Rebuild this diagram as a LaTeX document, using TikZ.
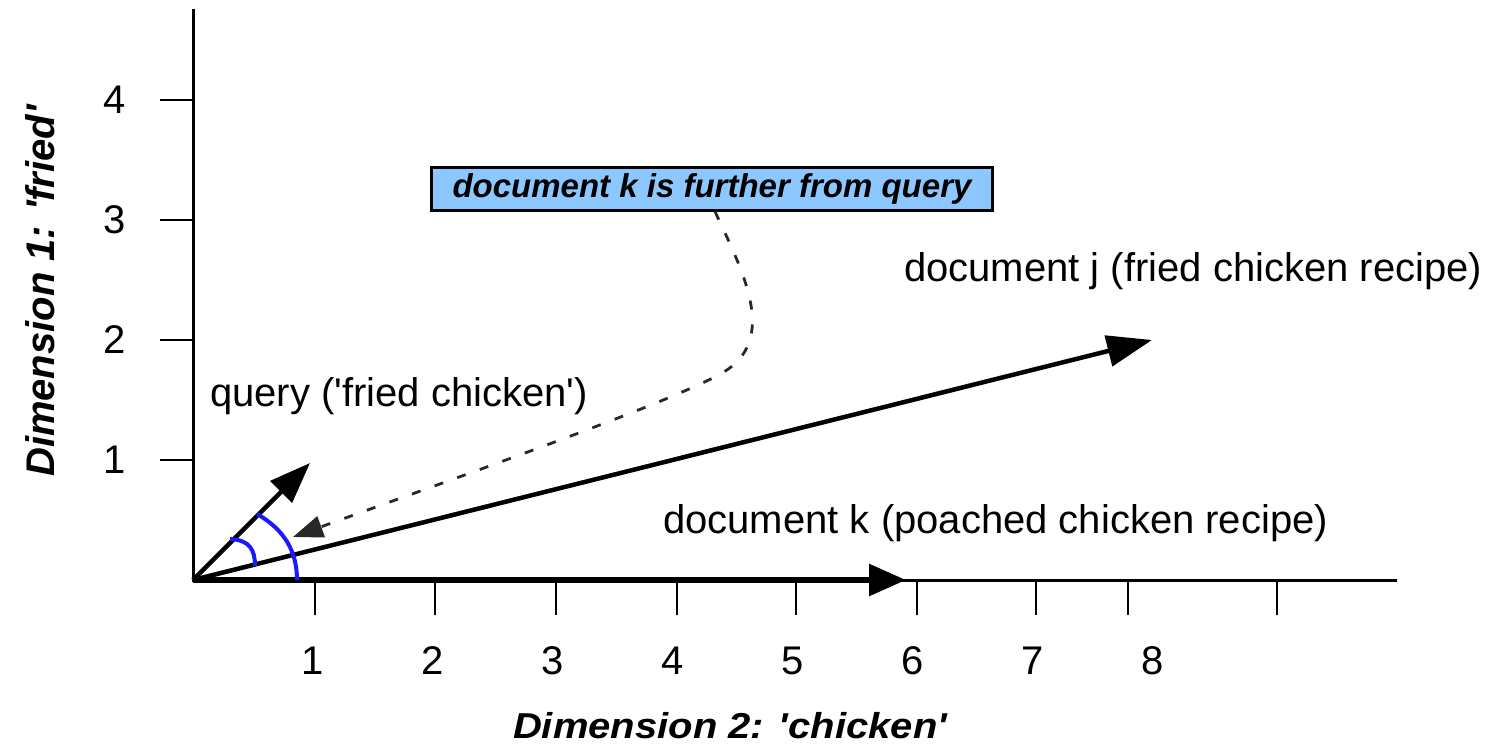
\documentclass[tikz,border=0pt]{standalone}
\usepackage{fontspec}
\setmainfont{Liberation Sans}
\usetikzlibrary{arrows.meta}
\definecolor{notefill}{RGB}{140,200,255}
\definecolor{arcblue}{RGB}{26,26,255}
\definecolor{dashgray}{RGB}{40,40,40}
\newcommand{\sq}{\textquotesingle}
\begin{document}
\begin{tikzpicture}[x=1pt,y=-1pt,
  lbl/.style={font=\fontsize{40}{44}\selectfont, inner sep=0pt},
  axlbl/.style={font=\fontsize{40}{44}\selectfont\bfseries\itshape, inner sep=0pt},
  ticklbl/.style={font=\fontsize{40}{44}\selectfont, inner sep=0pt, anchor=center},
  axisline/.style={line width=3pt, line cap=rect},
  tickline/.style={line width=2.5pt},
  vec/.style={line width=4.5pt},
  arcb/.style={draw=arcblue, line width=4pt},
  notebox/.style={draw=black, line width=3pt, fill=notefill, minimum width=561pt, minimum height=43pt, inner sep=0pt,
    font=\fontsize{33}{36}\selectfont\bfseries\itshape},
  dashconn/.style={draw=dashgray, line width=2.8pt, dash pattern=on 9pt off 15pt}
]
\useasboundingbox (0,0) rectangle (1488,747);

% axes
\coordinate (O) at (193,580);
\coordinate (ytop) at (193,10);
\coordinate (xend) at (1395,580);
\draw[axisline] (ytop) -- (O) -- (xend);

% y ticks
\foreach \v/\yy in {1/460,2/340,3/220,4/100}{
  \coordinate (yt\v) at (193,\yy);
  \draw[tickline] (yt\v) -- ++(-33,0);
  \node[ticklbl] (yl\v) at (115,\yy) {\v};
}
% x ticks
\foreach \i/\xx in {1/315,2/435,3/556,4/677,5/796,6/917,7/1036,8/1128,9/1277}{
  \coordinate (xt\i) at (\xx,582);
  \draw[tickline] (xt\i) -- ++(0,33);
}
\foreach \v/\xx in {1/313,2/433,3/553,4/673,5/793,6/913,7/1033,8/1153}{
  \node[ticklbl] (xl\v) at (\xx,661) {\v};
}

% axis labels
\node[axlbl, yscale=0.9] (xlabel) at (730,726) {Dimension 2: \sq chicken\sq};
\node[axlbl, rotate=90] (ylabel) at (40,291) {Dimension 1: \sq fried\sq};

% vectors
\coordinate (qtip) at (310,463);
\coordinate (jtip) at (1152,340);
\coordinate (ktip) at (906,580);
\draw[line width=6pt, -{Triangle[length=37pt,width=31pt]}] (O) -- (ktip);
\draw[vec, -{Triangle[length=45pt,width=31pt]}] (O) -- (jtip);
\draw[vec, -{Triangle[length=41pt,width=30pt]}] (O) -- (qtip);

% angle arcs
\draw[arcb] (257,514) .. controls (285,530) and (297,552) .. (297,580);
\draw[arcb] (230,539) .. controls (250,540) and (255,550) .. (255,566);

% labels
\node[lbl, anchor=base west] (qlabel) at (210,406) {query (\sq fried chicken\sq)};
\node[lbl, anchor=base west] (jlabel) at (904,281) {document j (fried chicken recipe)};
\node[lbl, anchor=base west] (klabel) at (663,533) {document k (poached chicken recipe)};

% note
\node[notebox] (note) at (712,188.5) {document k is further from query};
\coordinate (dend) at (293,537);
\draw[dashconn, -{Triangle[length=30pt,width=22pt]}]
  ([xshift=3pt]note.south) .. controls (742,270) and (780,340) .. (722,373)
  .. controls (670,403) and (450,480) .. (dend);
\end{tikzpicture}
\end{document}
